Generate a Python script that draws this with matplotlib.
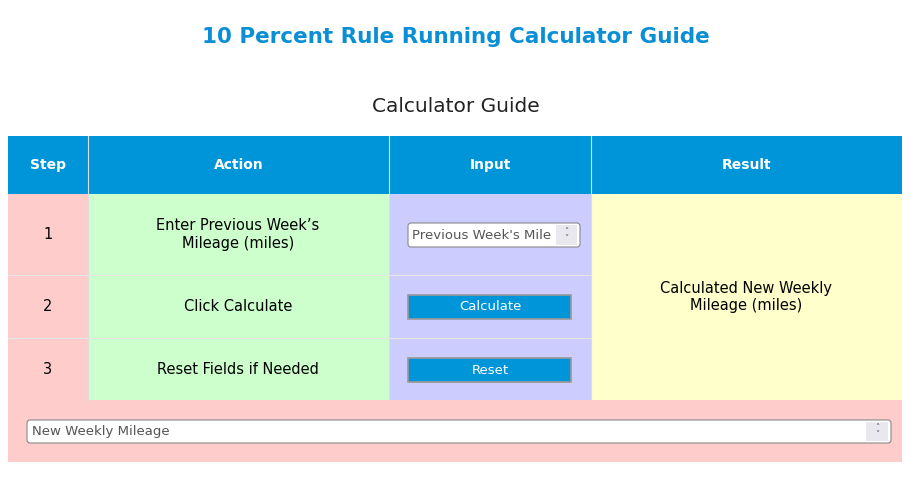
import matplotlib
matplotlib.use("Agg")
import matplotlib.pyplot as plt
from matplotlib.patches import Rectangle, FancyBboxPatch

title = "10 Percent Rule Running Calculator Guide"
subtitle = "Calculator Guide"
headers = ["Step", "Action", "Input", "Result"]
steps = ["1", "2", "3"]
actions = ["Enter Previous Week\u2019s\nMileage (miles)", "Click Calculate", "Reset Fields if Needed"]
inputs = ["Previous Week's Mile", "Calculate", "Reset"]
result = "Calculated New Weekly\nMileage (miles)"
output_placeholder = "New Weekly Mileage"

W, H = 912, 491
fig = plt.figure(figsize=(W/100, H/100), dpi=100)
ax = fig.add_axes([0, 0, 1, 1])
ax.set_xlim(0, W); ax.set_ylim(H, 0); ax.axis("off")

def rect(x0, y0, x1, y1, fc, ec="none", lw=0, z=1):
    ax.add_patch(Rectangle((x0, y0), x1-x0, y1-y0, facecolor=fc, edgecolor=ec, linewidth=lw, zorder=z))

ax.text(456, 37, title, ha="center", va="center", fontsize=15.5, fontweight="bold", color="#0A8FD6")
ax.text(456, 106, subtitle, ha="center", va="center", fontsize=14.5, color="#222222")

cols = [8, 88, 389, 591, 902]
rows = [194, 275, 338, 400]
blue = "#0094D9"
fills = ["#FFCCCC", "#CCFFCC", "#CCCCFF", "#FFFFCC"]
rect(8, 136, 902, 194, blue)
for i, h in enumerate(headers):
    ax.text((cols[i]+cols[i+1])/2, 165, h, ha="center", va="center", fontsize=10, fontweight="bold", color="white")
    if i > 0:
        ax.plot([cols[i]]*2, [136, 400], color="#dddddd", lw=0.8, zorder=3)
for c in range(3):
    rect(cols[c], 194, cols[c+1], 400, fills[c])
rect(591, 194, 902, 400, fills[3])
for r in rows[1:3]:
    ax.plot([8, 591], [r, r], color="#e6e6e6", lw=0.8, zorder=3)
for j in range(3):
    yc = (rows[j]+rows[j+1])/2
    ax.text(48, yc, steps[j], ha="center", va="center", fontsize=10.5)
    ax.text(238, yc, actions[j], ha="center", va="center", fontsize=10.5, linespacing=1.2)
ax.text(746, 297, result, ha="center", va="center", fontsize=10.5, linespacing=1.2)

# input field row 1
ax.add_patch(FancyBboxPatch((408, 223), 172, 24, boxstyle="round,pad=0,rounding_size=3", fc="white", ec="#888888", lw=0.8, zorder=4))
rect(556, 225, 577, 245, "#e8e8ee", z=5)
ax.text(412, 235, inputs[0], ha="left", va="center", fontsize=9.5, color="#555555", zorder=6)
ax.text(566, 235, "\u02c4\n\u02c5", ha="center", va="center", fontsize=6, color="#555555", zorder=6, linespacing=0.8)
# buttons
for j, yc in [(1, 307), (2, 370)]:
    rect(408, yc-12, 571, yc+12, "#0094D9", ec="#999999", lw=1.2, z=4)
    ax.text(490, yc, inputs[j], ha="center", va="center", fontsize=9.5, color="white", zorder=5)

# bottom row
rect(8, 400, 902, 462, "#FFCCCC")
ax.add_patch(FancyBboxPatch((27, 420), 864, 23, boxstyle="round,pad=0,rounding_size=3", fc="white", ec="#888888", lw=0.8, zorder=4))
rect(866, 422, 888, 441, "#e8e8ee", z=5)
ax.text(32, 432, output_placeholder, ha="left", va="center", fontsize=9.5, color="#555555", zorder=6)
ax.text(877, 431, "\u02c4\n\u02c5", ha="center", va="center", fontsize=6, color="#555555", zorder=6, linespacing=0.8)

fig.savefig("out.png", dpi=100)
